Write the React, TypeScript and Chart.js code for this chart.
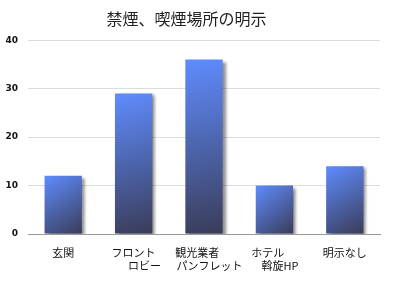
import React, { useEffect, useRef } from "react";
import { Chart, registerables } from "chart.js";

Chart.register(...registerables);

const titleText = "禁煙、喫煙場所の明示  ";
const categories: (string | string[])[] = [
  "玄関",
  ["フロント", "　　ロビー"],
  ["観光業者　 ", "　パンフレット"],
  ["ホテル　 ", "　斡旋HP"],
  "明示なし",
];
const values = [12, 29, 36, 10, 14];
const yTicks = [0, 10, 20, 30, 40];

const shadowPlugin = {
  id: "barShadow",
  beforeDatasetsDraw(chart: any) {
    const ctx = chart.ctx;
    ctx.save();
    ctx.shadowColor = "rgba(0,0,0,0.45)";
    ctx.shadowOffsetX = 3;
    ctx.shadowOffsetY = 2;
    ctx.shadowBlur = 3;
  },
  afterDatasetsDraw(chart: any) {
    chart.ctx.restore();
  },
};

export default function App() {
  const ref = useRef<HTMLCanvasElement>(null);
  useEffect(() => {
    const canvas = ref.current!;
    const chart = new Chart(canvas, {
      type: "bar",
      data: {
        labels: categories,
        datasets: [
          {
            data: values,
            barPercentage: 0.53,
            categoryPercentage: 1,
            backgroundColor: (c: any) => {
              const ch = c.chart;
              const xs = ch.scales?.x;
              const ys = ch.scales?.y;
              if (!xs || !ys || c.dataIndex === undefined) return "#4f6bd6";
              const cx = xs.getPixelForValue(c.dataIndex);
              const w = (xs.width / categories.length) * 0.53;
              const top = ys.getPixelForValue(values[c.dataIndex]);
              const base = ys.getPixelForValue(0);
              if (![cx, w, top, base].every((v) => Number.isFinite(v))) return "#4f6bd6";
              const g = ch.ctx.createLinearGradient(cx - w / 2, top, cx + w / 2, base);
              g.addColorStop(0, "#5f8cff");
              g.addColorStop(1, "#3a3c58");
              return g;
            },
            borderWidth: 0,
          },
        ],
      },
      options: {
        animation: false,
        responsive: true,
        maintainAspectRatio: false,
        layout: { padding: { left: 0, right: 20, top: 0, bottom: 0 } },
        plugins: {
          legend: { display: false },
          tooltip: { enabled: false },
          title: {
            display: true,
            text: titleText,
            color: "#222",
            font: { family: "Noto Sans CJK JP", size: 16, weight: "normal" },
            padding: { top: 9, bottom: 12 },
          },
        },
        scales: {
          x: {
            grid: { display: false },
            border: { display: true, color: "#999", width: 1 },
            ticks: {
              color: "#111",
              font: { family: "Noto Sans CJK JP", size: 11 },
              maxRotation: 0,
              autoSkip: false,
              padding: 4,
            },
            afterFit: (s: any) => {
              s.height = 66;
            },
          },
          y: {
            min: 0,
            max: 40,
            afterBuildTicks: (s: any) => {
              s.ticks = yTicks.map((v) => ({ value: v }));
            },
            grid: { color: "#dcdcdc", drawTicks: false },
            border: { display: false },
            ticks: {
              color: "#111",
              font: { family: "DejaVu Sans", size: 9, weight: "bold" },
              padding: 10,
            },
            afterFit: (s: any) => {
              s.width = 28;
            },
          },
        },
      },
      plugins: [shadowPlugin],
    });
    return () => chart.destroy();
  }, []);
  return (
    <div style={{ position: "fixed", left: 0, top: 0, width: 400, height: 300, background: "#fff" }}>
      <canvas ref={ref} />
    </div>
  );
}
